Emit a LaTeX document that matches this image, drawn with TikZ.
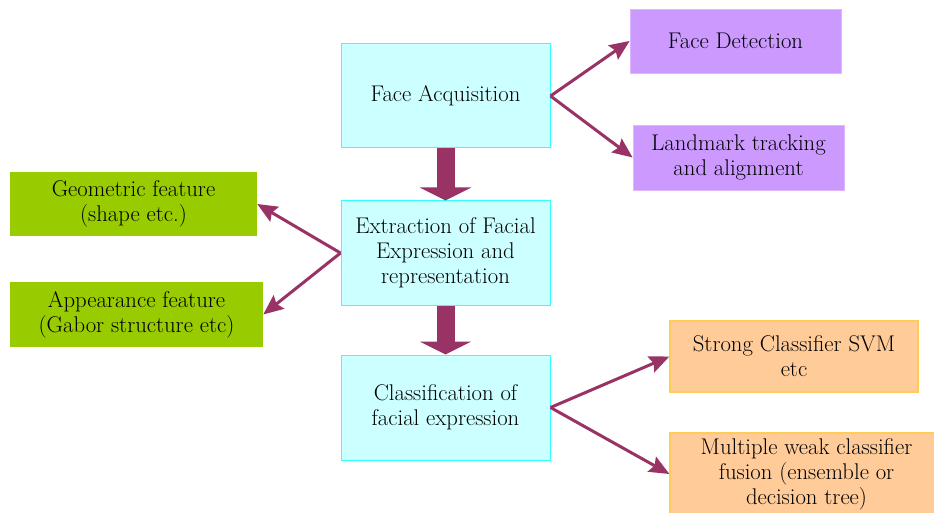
\documentclass[tikz,border=0pt]{standalone}
\usetikzlibrary{arrows.meta}

\definecolor{arrowc}{HTML}{993366}
\definecolor{cyanfill}{HTML}{CCFFFF}
\definecolor{cyanline}{HTML}{33FFFF}
\definecolor{purplefill}{HTML}{CC99FF}
\definecolor{purpleline}{HTML}{DDB8FF}
\definecolor{greenfill}{HTML}{99CC00}
\definecolor{orangefill}{HTML}{FFCC99}
\definecolor{orangeline}{HTML}{FFCC55}

\tikzset{
  box/.style={inner sep=0pt, align=center, anchor=center,
    font=\fontsize{22.7}{25}\selectfont},
  stagebox/.style={box, fill=cyanfill, draw=cyanline, line width=1pt},
  prepbox/.style={box, fill=purplefill, draw=purpleline, line width=0.8pt},
  featbox/.style={box, fill=greenfill},
  clsbox/.style={box, fill=orangefill, draw=orangeline, line width=1.2pt},
  thin arrow/.style={draw=arrowc, line width=3pt,
    -{Stealth[length=20pt,width=17pt,inset=3pt]}},
  block arrow/.style={draw=arrowc, line width=18pt,
    -{Triangle[length=13pt,width=51pt]}},
}

\begin{document}
\begin{tikzpicture}[x=1pt,y=-1pt]
\clip (0,0) rectangle (934,513);
\fill[white] (0,0) rectangle (934,513);

% main pipeline
\node[stagebox, minimum width=209pt, minimum height=104pt] (fa) at (445.5,96) {Face Acquisition};
\node[stagebox, minimum width=209pt, minimum height=104pt] (ex) at (445.5,253) {Extraction of Facial\\Expression and\\representation};
\node[stagebox, minimum width=209pt, minimum height=105pt] (cl) at (445.5,407.5) {Classification of\\facial expression};

% acquisition sub-steps
\node[prepbox, minimum width=211pt, minimum height=64pt] (fd) at (735.5,41) {Face Detection};
\node[prepbox, minimum width=211pt, minimum height=65pt] (lm) at (738.5,157.5) {Landmark tracking\\and alignment};

% feature types
\node[featbox, minimum width=247pt, minimum height=64pt] (gf) at (133.5,204) {Geometric feature\\(shape etc.)};
\node[featbox, minimum width=253pt, minimum height=65pt] (af) at (136.5,314.5) {Appearance feature\\(Gabor structure etc)};

% classifiers
\node[clsbox, minimum width=248pt, minimum height=71pt] (sc) at (794,356.5) {Strong Classifier SVM\\etc};
\node[clsbox, minimum width=273pt, minimum height=82pt] (mw) at (806.5,474) {Multiple weak classifier\\fusion (ensemble or\\decision tree)};

% block arrows between stages
\draw[block arrow] (fa.south) -- (ex.north);
\draw[block arrow] (ex.south) -- (cl.north);

% branches
\draw[thin arrow] (fa.east) -- (fd.west);
\draw[thin arrow] (fa.east) -- (lm.west);
\draw[thin arrow] (ex.west) -- (gf.east);
\draw[thin arrow] (ex.west) -- (af.east);
\draw[thin arrow] (cl.east) -- (sc.west);
\draw[thin arrow] (cl.east) -- (mw.west);
\end{tikzpicture}
\end{document}
